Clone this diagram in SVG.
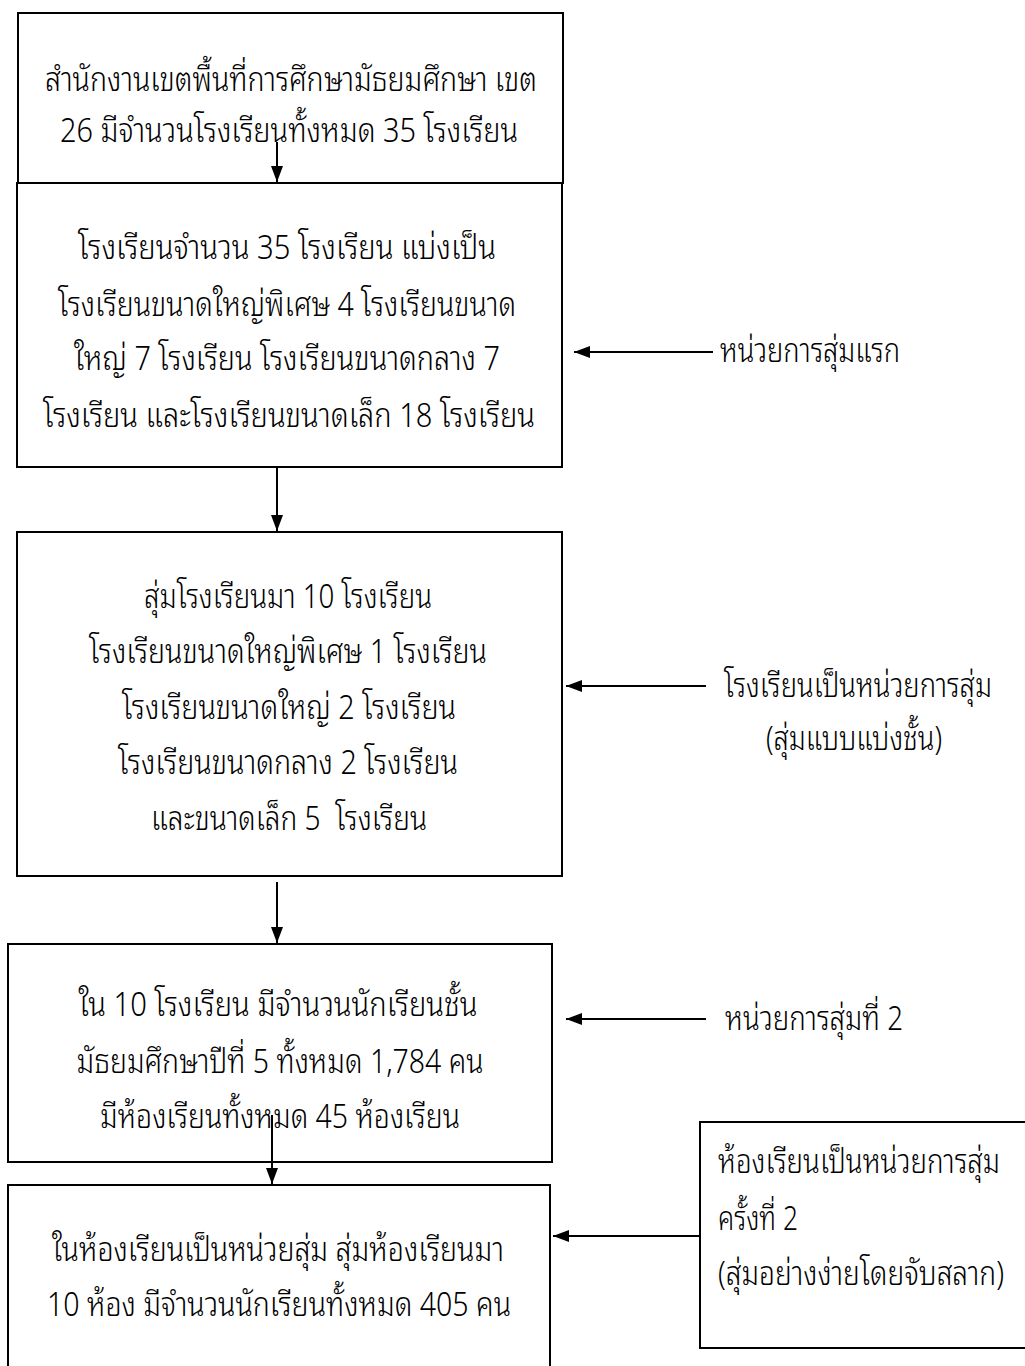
<svg xmlns="http://www.w3.org/2000/svg" width="1025" height="1366" viewBox="0 0 1025 1366">
<style>
.box{fill:#fff;stroke:#000;stroke-width:2}
.t{font-family:"Noto Sans Thai Looped","Noto Serif Thai","Noto Sans Thai","DejaVu Sans",sans-serif;font-size:28px;font-weight:330;fill:#000}
.c{text-anchor:middle}
.ln{stroke:#000;stroke-width:2;fill:none}
</style>
<defs>
<marker id="ah" viewBox="0 0 16 12" refX="16" refY="6" markerWidth="8" markerHeight="6" markerUnits="strokeWidth" orient="auto">
<path d="M0,0 L16,6 L0,12 z" fill="#000"/>
</marker>
</defs>
<rect width="1025" height="1366" fill="#fff"/>
<g id="n1">
<rect class="box" x="18" y="13" width="545" height="170"/>
<text class="t c" transform="matrix(1 0 0 1.18 0 91)" x="291" y="0" textLength="492" lengthAdjust="spacingAndGlyphs">สำนักงานเขตพื้นที่การศึกษามัธยมศึกษา เขต</text>
<text class="t c" transform="matrix(1 0 0 1.18 0 142)" x="289" y="0" textLength="458" lengthAdjust="spacingAndGlyphs">26 มีจำนวนโรงเรียนทั้งหมด 35 โรงเรียน</text>
</g>
<g id="n2">
<rect class="box" x="17" y="183" width="545" height="284"/>
<text class="t c" transform="matrix(1 0 0 1.18 0 259)" x="287" y="0" textLength="418" lengthAdjust="spacingAndGlyphs">โรงเรียนจำนวน 35 โรงเรียน แบ่งเป็น</text>
<text class="t c" transform="matrix(1 0 0 1.18 0 316)" x="287" y="0" textLength="458" lengthAdjust="spacingAndGlyphs">โรงเรียนขนาดใหญ่พิเศษ 4 โรงเรียนขนาด</text>
<text class="t c" transform="matrix(1 0 0 1.18 0 370)" x="287" y="0" textLength="426" lengthAdjust="spacingAndGlyphs">ใหญ่ 7 โรงเรียน โรงเรียนขนาดกลาง 7</text>
<text class="t c" transform="matrix(1 0 0 1.18 0 427)" x="289" y="0" textLength="492" lengthAdjust="spacingAndGlyphs">โรงเรียน และโรงเรียนขนาดเล็ก 18 โรงเรียน</text>
</g>
<g id="n3">
<rect class="box" x="17" y="532" width="545" height="344"/>
<text class="t c" transform="matrix(1 0 0 1.18 0 608)" x="288" y="0" textLength="288" lengthAdjust="spacingAndGlyphs">สุ่มโรงเรียนมา 10 โรงเรียน</text>
<text class="t c" transform="matrix(1 0 0 1.18 0 663)" x="288" y="0" textLength="398" lengthAdjust="spacingAndGlyphs">โรงเรียนขนาดใหญ่พิเศษ 1 โรงเรียน</text>
<text class="t c" transform="matrix(1 0 0 1.18 0 719)" x="289" y="0" textLength="334" lengthAdjust="spacingAndGlyphs">โรงเรียนขนาดใหญ่ 2 โรงเรียน</text>
<text class="t c" transform="matrix(1 0 0 1.18 0 774)" x="288" y="0" textLength="340" lengthAdjust="spacingAndGlyphs">โรงเรียนขนาดกลาง 2 โรงเรียน</text>
<text class="t c" transform="matrix(1 0 0 1.18 0 830)" x="289" y="0" textLength="276" lengthAdjust="spacingAndGlyphs" xml:space="preserve">และขนาดเล็ก 5  โรงเรียน</text>
</g>
<g id="n4">
<rect class="box" x="8" y="944" width="544" height="218"/>
<text class="t c" transform="matrix(1 0 0 1.18 0 1016)" x="278" y="0" textLength="399" lengthAdjust="spacingAndGlyphs">ใน 10 โรงเรียน มีจำนวนนักเรียนชั้น</text>
<text class="t c" transform="matrix(1 0 0 1.18 0 1073)" x="280" y="0" textLength="407" lengthAdjust="spacingAndGlyphs">มัธยมศึกษาปีที่ 5 ทั้งหมด 1,784 คน</text>
<text class="t c" transform="matrix(1 0 0 1.18 0 1128)" x="280" y="0" textLength="360" lengthAdjust="spacingAndGlyphs">มีห้องเรียนทั้งหมด 45 ห้องเรียน</text>
</g>
<g id="n5">
<rect class="box" x="8" y="1185" width="542" height="200"/>
<text class="t c" transform="matrix(1 0 0 1.18 0 1261)" x="278" y="0" textLength="452" lengthAdjust="spacingAndGlyphs">ในห้องเรียนเป็นหน่วยสุ่ม สุ่มห้องเรียนมา</text>
<text class="t c" transform="matrix(1 0 0 1.18 0 1316)" x="279" y="0" textLength="464" lengthAdjust="spacingAndGlyphs">10 ห้อง มีจำนวนนักเรียนทั้งหมด 405 คน</text>
</g>
<g id="l1">
<text class="t" transform="matrix(1 0 0 1.18 0 362)" x="720" y="0" textLength="180" lengthAdjust="spacingAndGlyphs">หน่วยการสุ่มแรก</text>
</g>
<g id="l2">
<text class="t c" transform="matrix(1 0 0 1.18 0 697)" x="858" y="0" textLength="268" lengthAdjust="spacingAndGlyphs">โรงเรียนเป็นหน่วยการสุ่ม</text>
<text class="t c" transform="matrix(1 0 0 1.18 0 750)" x="854" y="0" textLength="176" lengthAdjust="spacingAndGlyphs">(สุ่มแบบแบ่งชั้น)</text>
</g>
<g id="l3">
<text class="t" transform="matrix(1 0 0 1.18 0 1030)" x="725" y="0" textLength="178" lengthAdjust="spacingAndGlyphs">หน่วยการสุ่มที่ 2</text>
</g>
<g id="n6">
<rect class="box" x="700" y="1122" width="340" height="226"/>
<text class="t" transform="matrix(1 0 0 1.18 0 1173)" x="718" y="0" textLength="282" lengthAdjust="spacingAndGlyphs">ห้องเรียนเป็นหน่วยการสุ่ม</text>
<text class="t" transform="matrix(1 0 0 1.18 0 1230)" x="718" y="0" textLength="80" lengthAdjust="spacingAndGlyphs">ครั้งที่ 2</text>
<text class="t" transform="matrix(1 0 0 1.18 0 1285)" x="718" y="0" textLength="286" lengthAdjust="spacingAndGlyphs">(สุ่มอย่างง่ายโดยจับสลาก)</text>
</g>
<g id="connectors">
<line class="ln" x1="277" y1="142" x2="277" y2="182" marker-end="url(#ah)"/>
<line class="ln" x1="277" y1="468" x2="277" y2="531" marker-end="url(#ah)"/>
<line class="ln" x1="277" y1="882" x2="277" y2="943" marker-end="url(#ah)"/>
<line class="ln" x1="272" y1="1115" x2="272" y2="1184" marker-end="url(#ah)"/>
<line class="ln" x1="713" y1="352" x2="574" y2="352" marker-end="url(#ah)"/>
<line class="ln" x1="706" y1="686" x2="566" y2="686" marker-end="url(#ah)"/>
<line class="ln" x1="706" y1="1019" x2="566" y2="1019" marker-end="url(#ah)"/>
<line class="ln" x1="700" y1="1236" x2="553" y2="1236" marker-end="url(#ah)"/>
</g>
</svg>
